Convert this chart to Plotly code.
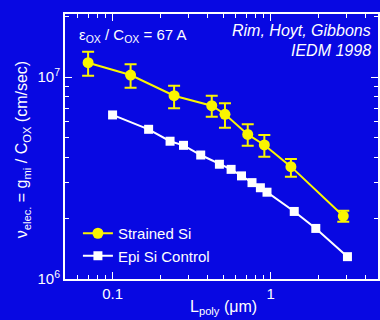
import plotly.graph_objects as go

# Strained Si (yellow circles with error bars)
strained_x = [0.070, 0.130, 0.245, 0.424, 0.514, 0.716, 0.912, 1.343, 2.88]
strained_y = [1.177e7, 1.023e7, 8.08e6, 7.21e6, 6.54e6, 5.20e6, 4.61e6, 3.60e6, 2.05e6]
strained_err_plus = [1.57e6, 1.33e6, 0.98e6, 0.87e6, 0.87e6, 0.64e6, 0.55e6, 0.33e6, 0.13e6]
strained_err_minus = [1.62e6, 1.38e6, 1.08e6, 0.85e6, 0.93e6, 0.63e6, 0.58e6, 0.39e6, 0.13e6]

# Epi Si Control (white squares)
control_x = [0.100, 0.169, 0.231, 0.281, 0.361, 0.474, 0.562, 0.654, 0.762, 0.861, 0.948, 1.41, 1.93, 3.06]
control_y = [6.49e6, 5.51e6, 4.81e6, 4.59e6, 4.11e6, 3.70e6, 3.49e6, 3.24e6, 3.00e6, 2.83e6, 2.69e6, 2.16e6, 1.78e6, 1.29e6]

x_major = [0.1, 1]
x_major_text = ["0.1", "1"]
x_minor = [0.06, 0.07, 0.08, 0.09, 0.2, 0.3, 0.4, 0.5, 0.6, 0.7, 0.8, 0.9, 2, 3, 4]
y_major = [1e6, 1e7]
y_major_text = ["10<sup>6</sup>", "10<sup>7</sup>"]
y_minor = [2e6, 3e6, 4e6, 5e6, 6e6, 7e6, 8e6, 9e6, 2e7]

BG = "rgb(8,8,226)"
YEL = "rgb(250,245,0)"
FONT = "Liberation Sans, Arial, sans-serif"

fig = go.Figure()
fig.add_trace(go.Scatter(
    x=strained_x, y=strained_y, mode="lines+markers", name="Strained Si",
    line=dict(color=YEL, width=2),
    marker=dict(symbol="circle", size=11, color=YEL),
    error_y=dict(type="data", symmetric=False, array=strained_err_plus,
                 arrayminus=strained_err_minus, color=YEL, thickness=2, width=6),
))
fig.add_trace(go.Scatter(
    x=control_x, y=control_y, mode="lines+markers", name="Epi Si Control",
    line=dict(color="white", width=2),
    marker=dict(symbol="square", size=9, color="white"),
))

L, T, B = 65, 14, 41
W, H = 380, 320
pw, ph = W - L, H - T - B

def px(x):
    return (x - L) / pw

def py(y):
    return (H - B - y) / ph

fig.update_layout(
    width=W, height=H,
    margin=dict(l=L, r=0, t=T, b=B),
    paper_bgcolor=BG, plot_bgcolor=BG,
    font=dict(family=FONT, color="white", size=15),
    showlegend=True,
    legend=dict(x=px(78), y=py(272), xanchor="left", yanchor="bottom",
                bgcolor="rgba(0,0,0,0)", font=dict(size=15, color="white"),
                tracegroupgap=0, itemwidth=30),
    xaxis=dict(type="log", range=[-1.3010, 0.679], showgrid=False, zeroline=False,
               showline=True, linecolor="white", linewidth=2, mirror="ticks",
               ticks="inside", ticklen=7, tickwidth=1, tickcolor="white",
               tickvals=x_major, ticktext=x_major_text,
               tickfont=dict(size=15, color="white"),
               minor=dict(tickvals=x_minor, ticks="inside", ticklen=4, tickcolor="white", tickwidth=1)),
    yaxis=dict(type="log", range=[6, 7.312], showgrid=False, zeroline=False,
               showline=True, linecolor="white", linewidth=2, mirror="ticks",
               ticks="inside", ticklen=7, tickwidth=1, tickcolor="white",
               tickvals=y_major, ticktext=y_major_text,
               tickfont=dict(size=15, color="white"),
               minor=dict(tickvals=y_minor, ticks="inside", ticklen=4, tickcolor="white", tickwidth=1)),
    annotations=[
        dict(text="ε<sub>OX</sub> / C<sub>OX</sub> = 67 A", xref="paper", yref="paper",
             x=px(77), y=py(35), xanchor="left", yanchor="middle", showarrow=False,
             font=dict(size=15, color="white")),
        dict(text="<i>Rim, Hoyt, Gibbons</i>", xref="paper", yref="paper",
             x=px(375), y=py(31), xanchor="right", yanchor="middle", showarrow=False,
             font=dict(size=16, color="white")),
        dict(text="<i>IEDM 1998</i>", xref="paper", yref="paper",
             x=px(375), y=py(51), xanchor="right", yanchor="middle", showarrow=False,
             font=dict(size=16, color="white")),
        dict(text="ν<sub>elec.</sub> = g<sub>mi</sub> / C<sub>OX</sub> (cm/sec)", xref="paper", yref="paper",
             x=px(22), y=py(150), xanchor="center", yanchor="middle", textangle=-90,
             showarrow=False, font=dict(size=16, color="white")),
        dict(text="L<sub>poly</sub> (μm)", xref="paper", yref="paper",
             x=px(225), y=py(307), xanchor="center", yanchor="middle", showarrow=False,
             font=dict(size=16, color="white")),
    ],
)

fig.write_html("out.html")
